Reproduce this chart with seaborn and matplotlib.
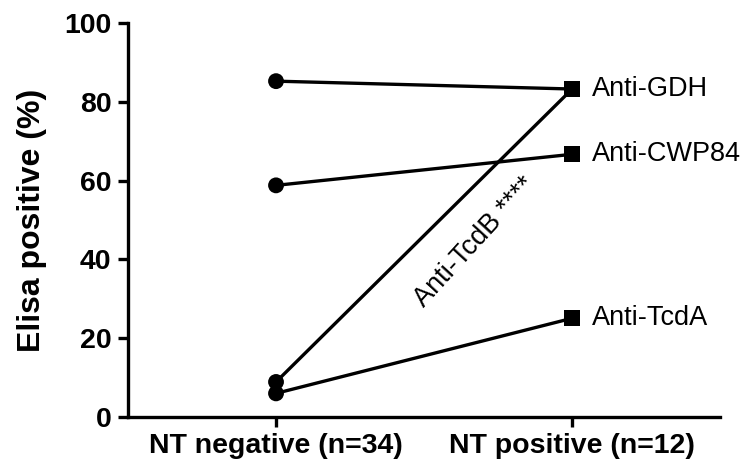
import matplotlib
matplotlib.use("Agg")
import matplotlib.pyplot as plt
import seaborn as sns
import pandas as pd
import numpy as np

groups = ["NT negative (n=34)", "NT positive (n=12)"]
series = ["Anti-GDH", "Anti-CWP84", "Anti-TcdB", "Anti-TcdA"]
nt_negative = [85.3, 58.8, 8.8, 5.9]
nt_positive = [83.3, 66.7, 83.3, 25.0]
label_series = ["Anti-GDH", "Anti-CWP84", "Anti-TcdA"]
tcdb_label = "Anti-TcdB ****"

rows = []
for s, a, b in zip(series, nt_negative, nt_positive):
    rows.append({"series": s, "group": groups[0], "x": 0, "value": a})
    rows.append({"series": s, "group": groups[1], "x": 1, "value": b})
df = pd.DataFrame(rows)

sns.set_style("ticks")
plt.rcParams['font.family'] = ['Liberation Sans', 'DejaVu Sans']
plt.rcParams.update({"text.color": "black", "axes.labelcolor": "black",
                     "xtick.color": "black", "ytick.color": "black",
                     "axes.edgecolor": "black"})

fig = plt.figure(figsize=(7.44, 4.67), dpi=100)
ax = fig.add_axes([0.172, 0.108, 0.796, 0.842])

sns.lineplot(data=df, x="x", y="value", units="series", estimator=None,
             color="black", lw=2.4, ax=ax, legend=False)
sns.scatterplot(data=df, x="x", y="value", style="group",
                markers={groups[0]: "o", groups[1]: "s"}, color="black",
                s=130, edgecolor="black", linewidth=0, ax=ax, legend=False, zorder=5)

for s in label_series:
    v = df[(df.series == s) & (df.x == 1)].value.iloc[0]
    ax.text(1.067, v, s, ha="left", va="center", fontsize=19.5)

ax.text(0.672, 44.4, tcdb_label, ha="center", va="center", fontsize=19.5,
        rotation=47.5, rotation_mode="anchor")

ax.set_xlim(-0.5, 1.5)
ax.set_ylim(0, 100)
ax.set_xticks([0, 1])
ax.set_xticklabels(groups, fontsize=20.5, fontweight="bold")
ax.set_yticks([0, 20, 40, 60, 80, 100])
ax.set_yticklabels([str(v) for v in [0, 20, 40, 60, 80, 100]], fontsize=20.5, fontweight="bold")
ax.set_xlabel("")
ax.set_ylabel("Elisa positive (%)", fontsize=23, fontweight="bold", labelpad=12)
for sp in ["top", "right"]:
    ax.spines[sp].set_visible(False)
for sp in ["left", "bottom"]:
    ax.spines[sp].set_linewidth(2.4)
    ax.spines[sp].set_color("black")
ax.tick_params(axis="both", width=2.4, length=7, color="black", pad=5)

fig.savefig("out.png", dpi=100)
